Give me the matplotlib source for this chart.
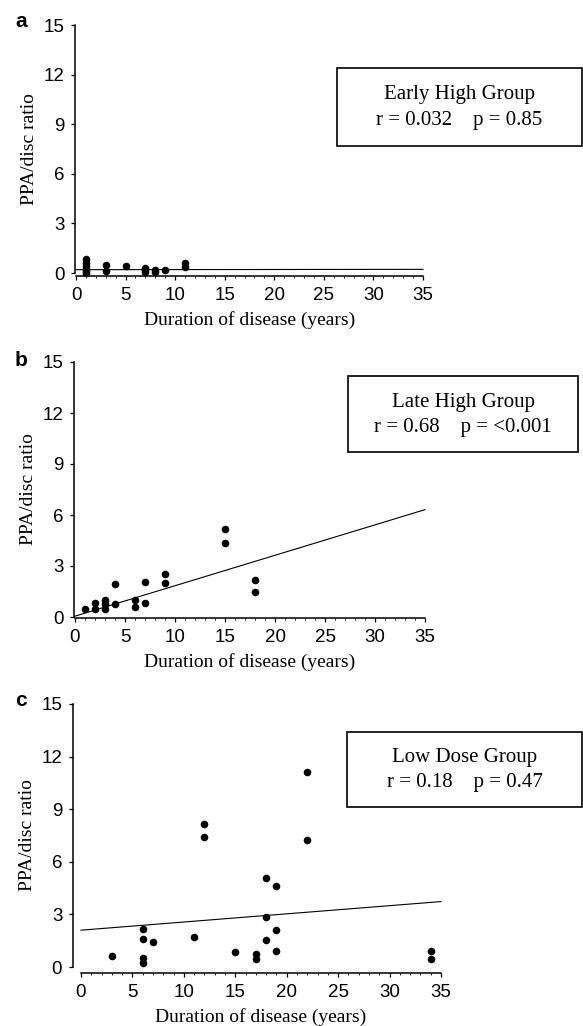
import matplotlib
matplotlib.use('Agg')
import matplotlib.pyplot as plt
from matplotlib.patches import Rectangle
from matplotlib.ticker import MultipleLocator

# Data
early_x = [1, 1, 1, 1, 1, 1, 3, 3, 5, 7, 7, 7, 8, 8, 9, 11, 11]
early_y = [0.85, 0.6, 0.4, 0.25, 0.1, 0.0, 0.5, 0.15, 0.4, 0.3, 0.16, 0.04, 0.2, 0.04, 0.18, 0.58, 0.36]
early_fit = (0.2, 0.0006)  # intercept, slope

late_x = [1, 2, 2, 3, 3, 3, 4, 4, 6, 6, 7, 7, 9, 9, 15, 15, 18, 18]
late_y = [0.45, 0.8, 0.5, 1.0, 0.76, 0.5, 1.96, 0.76, 1.0, 0.6, 2.04, 0.84, 2.53, 2.0, 5.2, 4.35, 2.2, 1.45]
late_fit = (0.05, 0.179)

low_x = [3, 6, 6, 6, 6, 7, 11, 12, 12, 15, 17, 17, 18, 18, 18, 19, 19, 19, 22, 22, 34, 34]
low_y = [0.63, 2.15, 1.58, 0.51, 0.25, 1.43, 1.71, 8.15, 7.4, 0.88, 0.74, 0.48, 5.05, 2.84, 1.56,
         4.63, 2.13, 0.91, 11.14, 7.24, 0.91, 0.44]
low_fit = (2.1, 0.0466)

group_names = ['Early High Group', 'Late High Group', 'Low Dose Group']
stats_text = ['r = 0.032    p = 0.85', 'r = 0.68    p = <0.001', 'r = 0.18    p = 0.47']
panel_letters = ['a', 'b', 'c']
y_ticks = [0, 3, 6, 9, 12, 15]
x_ticks = [0, 5, 10, 15, 20, 25, 30, 35]

W, H = 583, 1026
fig = plt.figure(figsize=(W / 100, H / 100), dpi=100)

SANS = 'Liberation Sans'
SERIF = 'Liberation Serif'


def px_axes(x0, x35, y15, y0):
    # axes from pixel positions of data (0, 0) and (35, 15)
    return fig.add_axes([x0 / W, 1 - y0 / H, (x35 - x0) / W, (y0 - y15) / H])


def draw_panel(ax, xs, ys, fit, left_off, bottom_off):
    ax.scatter(xs, ys, s=30, color='black', zorder=3, clip_on=False, linewidths=0)
    ax.plot([0, 35], [fit[0], fit[0] + fit[1] * 35], color='black', lw=0.8, clip_on=False)
    ax.set_xlim(0, 35)
    ax.set_ylim(0, 15)
    for s in ['top', 'right']:
        ax.spines[s].set_visible(False)
    ax.spines['left'].set_position(('outward', left_off))
    ax.spines['bottom'].set_position(('outward', bottom_off))
    for s in ['left', 'bottom']:
        ax.spines[s].set_linewidth(1.1)
    ax.set_xticks(x_ticks)
    ax.set_yticks(y_ticks)
    ax.xaxis.set_minor_locator(MultipleLocator(1))
    ax.tick_params(axis='both', which='major', direction='out', length=3, width=0.9,
                   labelsize=13.5)
    ax.tick_params(axis='x', which='major', pad=5)
    ax.tick_params(axis='y', which='major', pad=4.5)
    ax.tick_params(axis='x', which='minor', direction='out', length=1.6, width=0.6)
    for lab in ax.get_xticklabels() + ax.get_yticklabels():
        lab.set_fontfamily(SANS)
    ax.set_xlabel('Duration of disease (years)', fontfamily=SERIF, fontsize=14, labelpad=5)
    ax.set_ylabel('PPA/disc ratio', fontfamily=SERIF, fontsize=14, labelpad=4)
    ax.patch.set_visible(False)


def stat_box(left, top, right, bottom, name, stats):
    fig.patches.append(Rectangle((left / W, 1 - bottom / H), (right - left) / W, (bottom - top) / H,
                                 transform=fig.transFigure, fill=False, edgecolor='black', lw=1.2))
    cx = (left + right) / 2 / W
    mid = (top + bottom) / 2
    fig.text(cx, 1 - (mid - 12) / H, name, ha='center', va='center', fontfamily=SERIF, fontsize=15)
    fig.text(cx, 1 - (mid + 13) / H, stats, ha='center', va='center', fontfamily=SERIF, fontsize=15)


ax_a = px_axes(76, 423, 25, 273)
draw_panel(ax_a, early_x, early_y, early_fit, 0.5, 2)
ax_b = px_axes(75, 425, 362, 617)
draw_panel(ax_b, late_x, late_y, late_fit, 0.5, 1)
ax_c = px_axes(81, 441, 704, 967)
draw_panel(ax_c, low_x, low_y, low_fit, 6, 4)

stat_box(337, 68, 582, 146, group_names[0], stats_text[0])
stat_box(348, 376, 578, 452, group_names[1], stats_text[1])
stat_box(347, 732, 582, 807, group_names[2], stats_text[2])

for letter, y in zip(panel_letters, [22, 360, 700]):
    fig.text(21 / W, 1 - y / H, letter, ha='center', va='center', fontfamily=SANS,
             fontweight='bold', fontsize=15)

fig.savefig('out.png', dpi=100)
